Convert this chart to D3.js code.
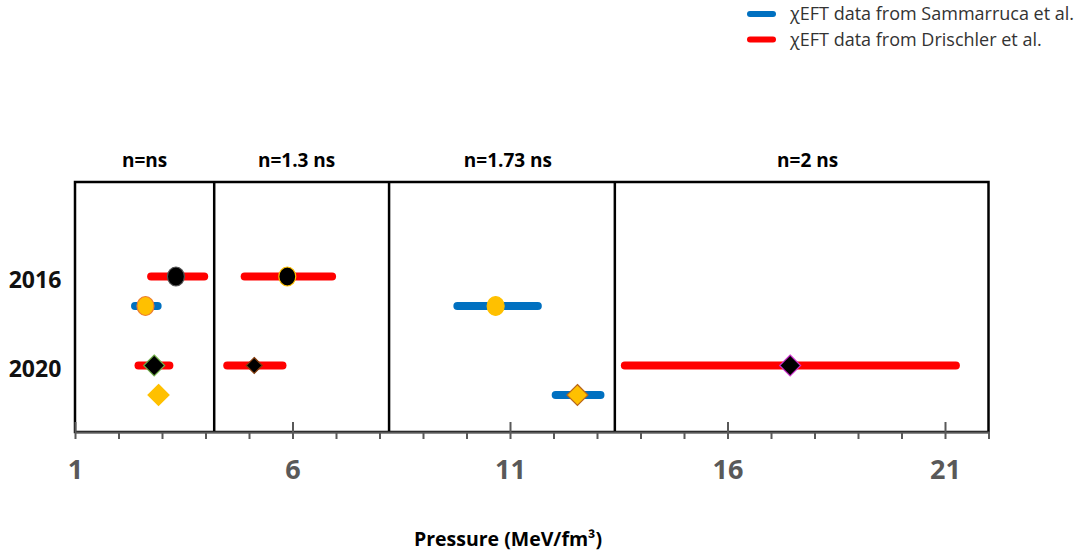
<!DOCTYPE html>
<html>
<head>
<meta charset="utf-8">
<script src="https://cdn.jsdelivr.net/npm/d3@7.9.0/dist/d3.min.js"></script>
<style>
  body { margin: 0; background: #fff; }
  svg { display: block; font-family: "Open Sans", sans-serif; }
</style>
</head>
<body>
<div id="chart"></div>
<script>
// Density regions (panel boundaries in pressure units)
const regions = ['n=ns', 'n=1.3 ns', 'n=1.73 ns', 'n=2 ns'];
const regionBounds = [1, 4.2, 8.22, 13.41, 22];

const years = ['2016', '2020'];
const sources = ['Drischler', 'Sammarruca'];

// pressure ranges [low, high] and central value
const sammarruca2016 = [
  { region: 'n=ns', lo: 2.38, hi: 2.90, mid: 2.62 },
  { region: 'n=1.73 ns', lo: 9.79, hi: 11.64, mid: 10.67 }
];
const drischler2016 = [
  { region: 'n=ns', lo: 2.75, hi: 3.97, mid: 3.32 },
  { region: 'n=1.3 ns', lo: 4.90, hi: 6.91, mid: 5.88 }
];
const sammarruca2020 = [
  { region: 'n=ns', lo: 2.92, hi: 2.92, mid: 2.92 },
  { region: 'n=1.73 ns', lo: 12.05, hi: 13.08, mid: 12.55 }
];
const drischler2020 = [
  { region: 'n=ns', lo: 2.46, hi: 3.17, mid: 2.82 },
  { region: 'n=1.3 ns', lo: 4.50, hi: 5.77, mid: 5.12 },
  { region: 'n=2 ns', lo: 13.64, hi: 21.25, mid: 17.44 }
];

const majorTicks = [1, 6, 11, 16, 21];

const width = 1083;
const height = 554;

const sourceColor = { Sammarruca: '#0070c0', Drischler: '#ff0000' };
// marker fill / outline per point, same order as the arrays above
const markerStyles = {
  '2016-Sammarruca': [['#ffc000', '#ed7d31'], ['#ffc000', '#ffc000']],
  '2016-Drischler': [['#000', '#555'], ['#000', '#ffc000']],
  '2020-Sammarruca': [['#ffc000', '#ffc000'], ['#ffc000', '#b8651b']],
  '2020-Drischler': [['#000', '#70ad47'], ['#000', '#843c0c'], ['#000', '#cc33cc']]
};

const series = [
  { year: '2016', source: 'Drischler', points: drischler2016 },
  { year: '2016', source: 'Sammarruca', points: sammarruca2016 },
  { year: '2020', source: 'Drischler', points: drischler2020 },
  { year: '2020', source: 'Sammarruca', points: sammarruca2020 }
];

const plot = { left: 75, right: 988.5, top: 182, bottom: 432 };

const x = d3.scaleLinear().domain([1, 22]).range([plot.left, plot.right]);
const yYear = d3.scalePoint().domain(years).range([291, 380]);
const ySource = d3.scalePoint().domain(sources).range([-14.5, 15]);
const y = (yr, src) => yYear(yr) + ySource(src);

const svg = d3.select('#chart').append('svg')
  .attr('width', width)
  .attr('height', height)
  .attr('viewBox', `0 0 ${width} ${height}`);

// Panel box
svg.append('rect')
  .attr('x', x(1)).attr('y', plot.top)
  .attr('width', x(22) - x(1)).attr('height', plot.bottom - plot.top)
  .attr('fill', 'none').attr('stroke', '#000').attr('stroke-width', 2.5);

svg.append('g').selectAll('line')
  .data(regionBounds.slice(1, -1))
  .join('line')
  .attr('x1', d => x(d)).attr('x2', d => x(d))
  .attr('y1', plot.top).attr('y2', plot.bottom)
  .attr('stroke', '#000').attr('stroke-width', 2.5);

// Region labels (sit a little right of panel centre, as in the original)
svg.append('g').selectAll('text')
  .data(regions)
  .join('text')
  .attr('x', (d, i) => (x(regionBounds[i]) + x(regionBounds[i + 1])) / 2 + (i === 0 ? 0 : i === 1 ? -5 : 6))
  .attr('y', 167)
  .attr('text-anchor', 'middle')
  .attr('font-size', 19)
  .attr('font-weight', 'bold')
  .attr('fill', '#000')
  .text(d => d);

// Axis: minor ticks, major ticks above, labels
const axisG = svg.append('g').attr('transform', `translate(0, ${plot.bottom})`);
axisG.call(d3.axisBottom(x).tickValues(d3.range(1, 23)).tickFormat('').tickSize(7).tickSizeOuter(0));
axisG.append('g').call(d3.axisTop(x).tickValues(majorTicks).tickFormat('').tickSize(10).tickSizeOuter(0))
  .select('.domain').remove();
axisG.append('g')
  .call(d3.axisBottom(x).tickValues(majorTicks).tickSize(0).tickPadding(28).tickFormat(d3.format('d')))
  .call(g => g.select('.domain').remove());
axisG.selectAll('path, line').attr('stroke', '#595959').attr('stroke-width', 2);
axisG.selectAll('text')
  .attr('font-family', '"Open Sans", sans-serif')
  .attr('font-size', 27)
  .attr('font-weight', 'bold')
  .attr('fill', '#595959');

// Year labels
svg.append('g').selectAll('text')
  .data(years)
  .join('text')
  .attr('x', 35)
  .attr('y', d => y(d, 'Drischler') + 3)
  .attr('dy', '0.35em')
  .attr('text-anchor', 'middle')
  .attr('font-size', 23)
  .attr('font-weight', 'bold')
  .attr('fill', '#111')
  .text(d => d);

// Bars
const rows = svg.append('g').selectAll('g')
  .data(series)
  .join('g');

rows.selectAll('line')
  .data(s => s.points.filter(p => p.hi > p.lo).map(p => ({ ...p, s })))
  .join('line')
  .attr('x1', d => x(d.lo)).attr('x2', d => x(d.hi))
  .attr('y1', d => y(d.s.year, d.s.source)).attr('y2', d => y(d.s.year, d.s.source))
  .attr('stroke', d => sourceColor[d.s.source])
  .attr('stroke-width', 8)
  .attr('stroke-linecap', 'round');

// Markers: circles for 2016, diamonds for 2020
rows.each(function (s) {
  const g = d3.select(this);
  const styles = markerStyles[`${s.year}-${s.source}`];
  const pts = s.points.map((p, i) => ({ ...p, fill: styles[i][0], stroke: styles[i][1] }));
  const cy = y(s.year, s.source);
  if (s.year === '2016') {
    g.selectAll('ellipse').data(pts).join('ellipse')
      .attr('cx', d => x(d.mid)).attr('cy', cy)
      .attr('rx', 8.5).attr('ry', 9.5)
      .attr('fill', d => d.fill).attr('stroke', d => d.stroke).attr('stroke-width', 1.2);
  } else {
    const size = d => d.region === 'n=1.3 ns' ? 8 : 10.5;
    g.selectAll('path').data(pts).join('path')
      .attr('d', d => {
        const cx = x(d.mid), r = size(d);
        return `M${cx},${cy - r}L${cx + r},${cy}L${cx},${cy + r}L${cx - r},${cy}Z`;
      })
      .attr('fill', d => d.fill).attr('stroke', d => d.stroke).attr('stroke-width', 1.2);
  }
});

// Axis title
svg.append('text')
  .attr('x', 508).attr('y', 546)
  .attr('text-anchor', 'middle')
  .attr('font-size', 19.5)
  .attr('font-weight', 'bold')
  .attr('fill', '#000')
  .text('Pressure (MeV/fm³)');

// Legend
const legendItems = [
  { source: 'Sammarruca', label: 'χEFT data from Sammarruca et al.' },
  { source: 'Drischler', label: 'χEFT data from Drischler et al.' }
];
const legend = svg.append('g').selectAll('g')
  .data(legendItems)
  .join('g')
  .attr('transform', (d, i) => `translate(0, ${14 + i * 25.5})`);
legend.append('line')
  .attr('x1', 750).attr('x2', 773)
  .attr('stroke', d => sourceColor[d.source])
  .attr('stroke-width', 6)
  .attr('stroke-linecap', 'round');
legend.append('text')
  .attr('x', 790)
  .attr('dy', '0.35em')
  .attr('font-size', 18)
  .attr('fill', '#333')
  .text(d => d.label);
</script>
</body>
</html>
